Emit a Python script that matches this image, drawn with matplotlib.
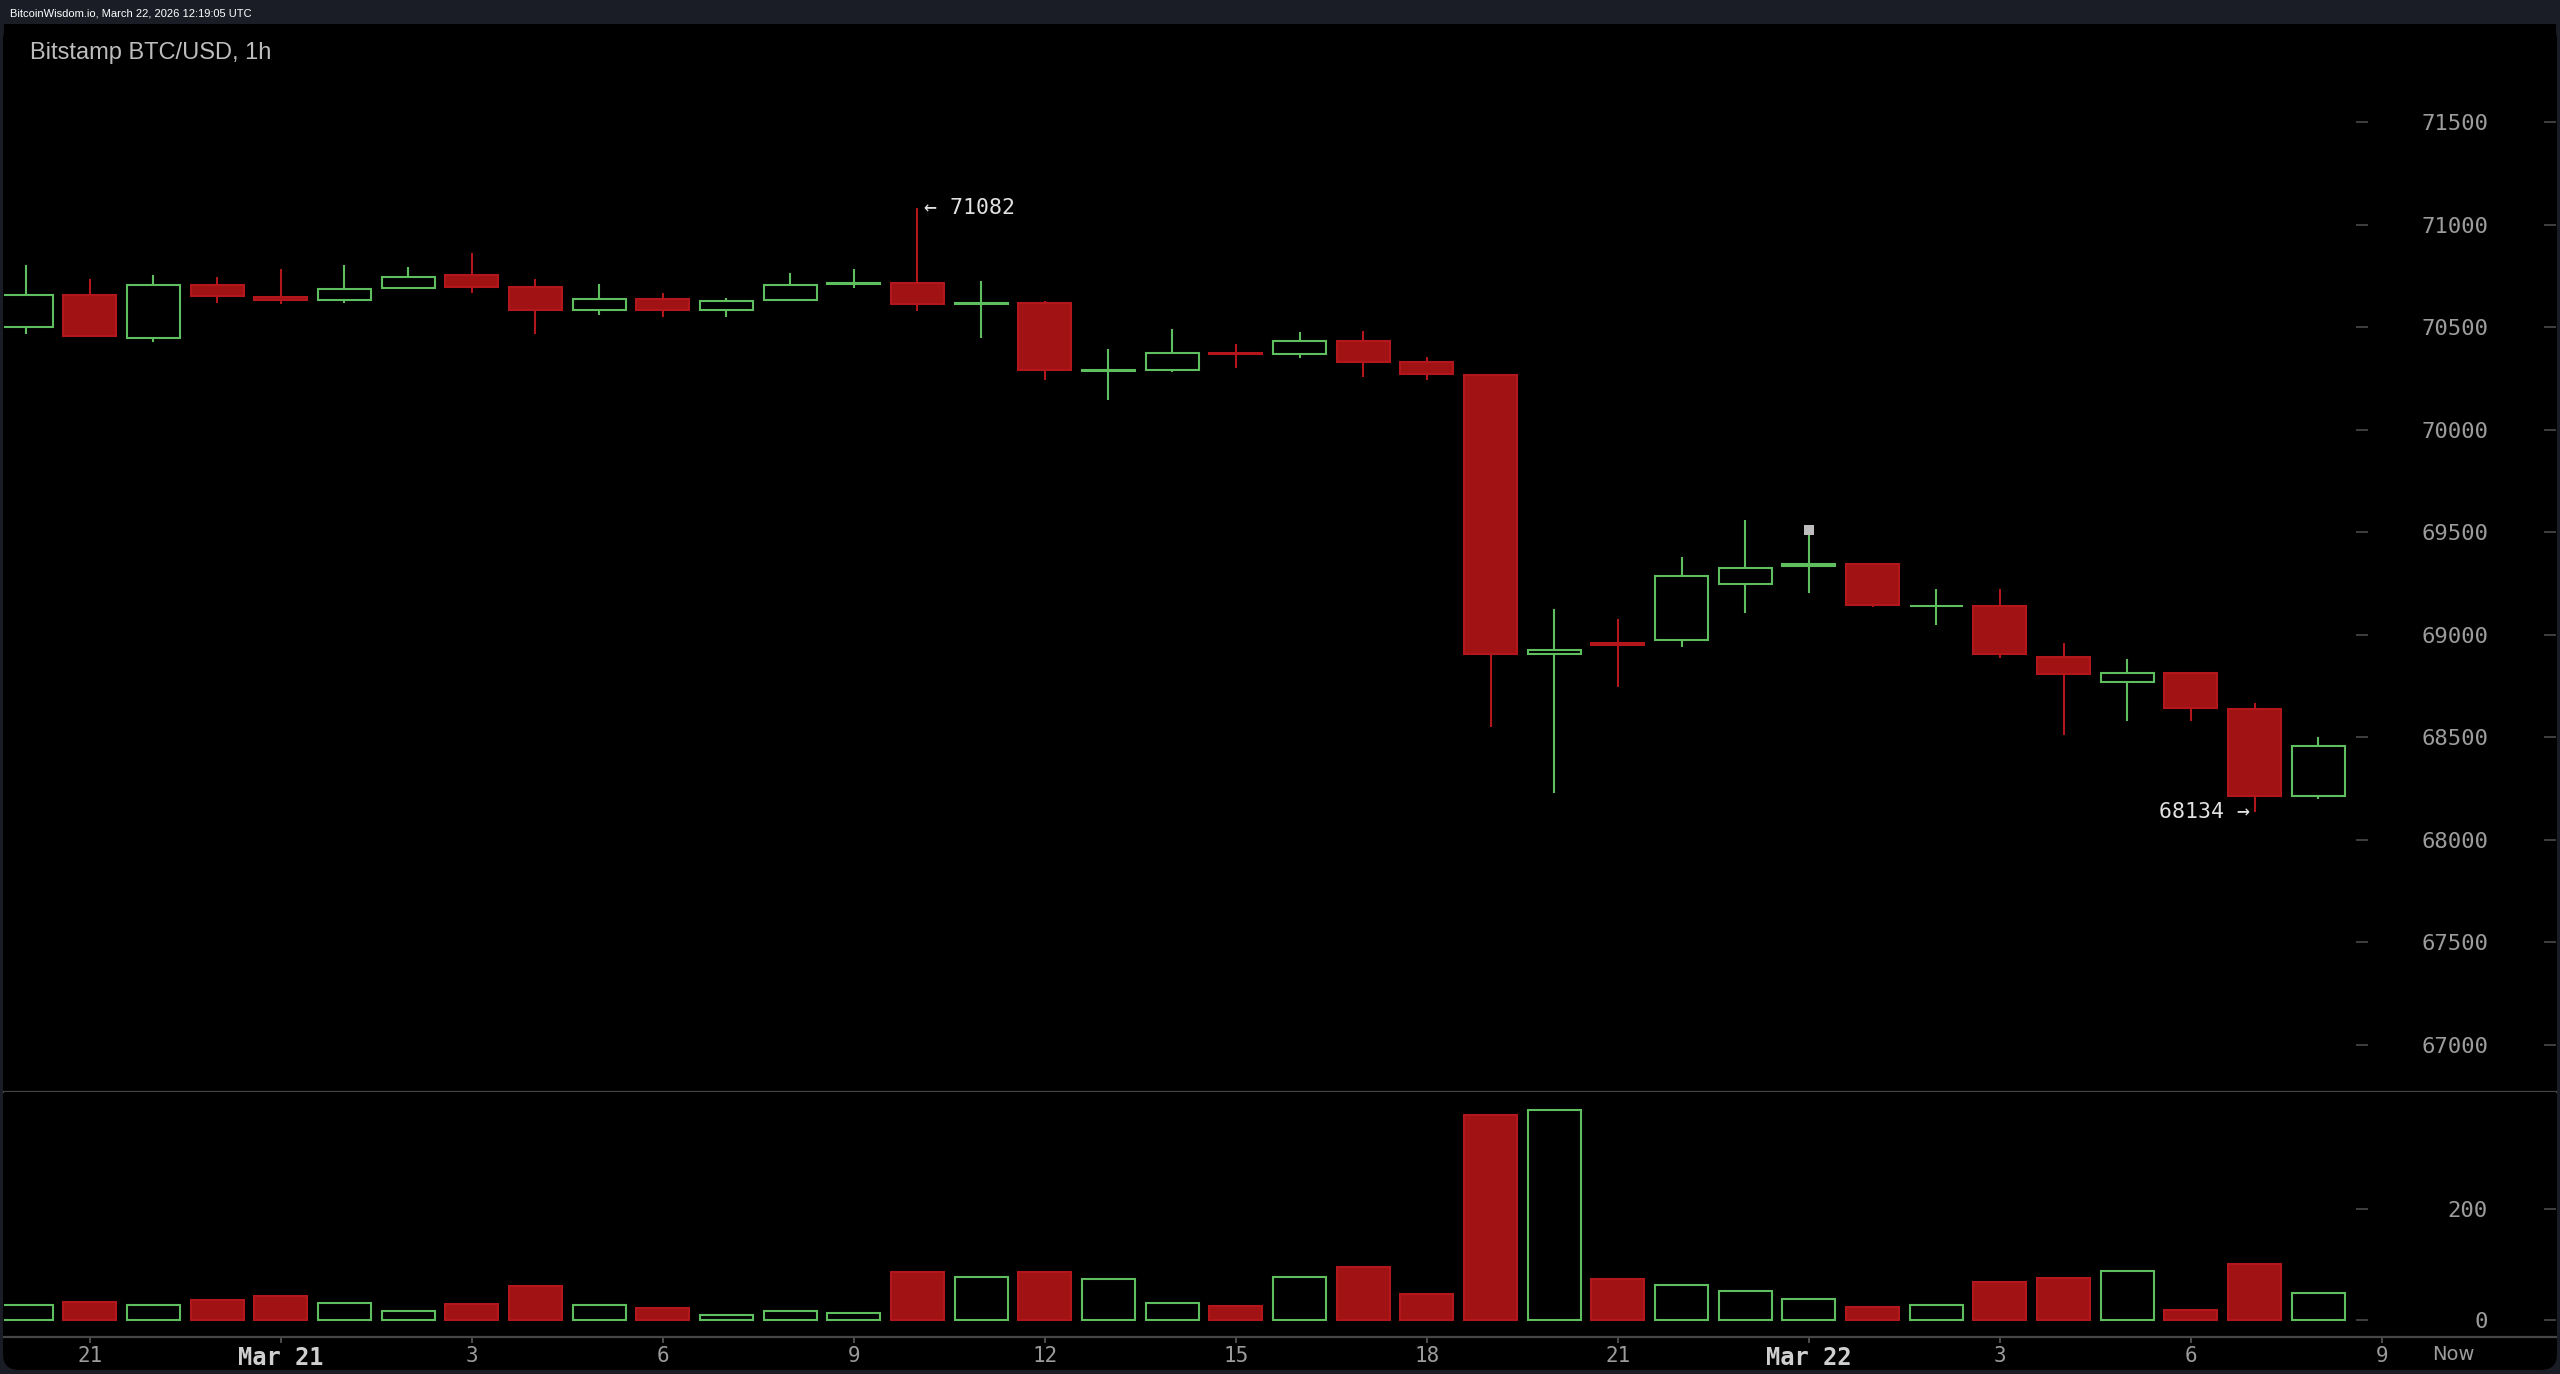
"""Bitstamp BTC/USD 1h candlestick chart with volume, in the BitcoinWisdom dark style."""

import numpy as np
import matplotlib
matplotlib.use("Agg")
import matplotlib.pyplot as plt
import matplotlib.transforms as mtransforms
from matplotlib.patches import FancyBboxPatch

# ---- data (hourly candles, Mar 20 20:00 -> Mar 22 08:00) ----
opens = [70502, 70658, 70450, 70705, 70650, 70632, 70691, 70756, 70699, 70585,
         70639, 70583, 70632, 70712, 70717, 70614, 70619, 70285, 70292, 70375,
         70370, 70435, 70330, 70270, 68905, 68958, 68975, 69247, 69334, 69347,
         69139, 69143, 68891, 68771, 68813, 68637, 68216]
highs = [70804, 70736, 70756, 70747, 70785, 70804, 70795, 70865, 70736, 70710,
         70669, 70642, 70765, 70785, 71082, 70726, 70630, 70395, 70494, 70417,
         70476, 70484, 70357, 70275, 69125, 69077, 69378, 69560, 69512, 69350,
         69222, 69222, 68959, 68881, 68821, 68667, 68501]
lows = [70466, 70455, 70427, 70621, 70612, 70621, 70688, 70666, 70466, 70562,
        70552, 70552, 70630, 70691, 70582, 70447, 70243, 70146, 70281, 70304,
        70349, 70260, 70243, 68552, 68230, 68747, 68943, 69105, 69203, 69134,
        69048, 68886, 68512, 68582, 68582, 68134, 68198]
closes = [70658, 70458, 70705, 70652, 70632, 70687, 70744, 70699, 70583, 70639,
          70583, 70630, 70705, 70714, 70613, 70618, 70292, 70290, 70375, 70371,
          70434, 70331, 70273, 68905, 68928, 68953, 69287, 69325, 69344, 69146,
          69143, 68905, 68808, 68813, 68642, 68216, 68460]
volumes = [26, 31, 26, 34.5, 41.7, 30.3, 15.9, 27.3, 59.8, 26.1,
           20.1, 8.1, 15.9, 12.3, 85, 76.6, 85, 73, 30.3, 23.7,
           76.6, 95.2, 45.4, 368, 378, 73.5, 62.8, 51.4, 37.5, 23.1,
           26.7, 67, 74.2, 87.4, 17.1, 99.5, 48.3]

price_ticks = [67000, 67500, 68000, 68500, 69000, 69500, 70000, 70500, 71000, 71500]
volume_ticks = [0, 200]
hour_tick_pos = [1, 4, 7, 10, 13, 16, 19, 22, 25, 28, 31, 34, 37]
hour_tick_labels = ["21", "Mar 21", "3", "6", "9", "12", "15", "18", "21",
                    "Mar 22", "3", "6", "9"]

# ---- style ----
OUTER = "#1a1d26"
PANEL = "#000000"
RED_FILL = "#a01214"
RED_EDGE = "#b3171b"
GREEN = "#5fbf5f"
AXIS_LINE = "#464646"
TICK_TEXT = "#9c9c9c"
BRIGHT_TEXT = "#cfcfcf"
MONO = "DejaVu Sans Mono"

W, H = 2560, 1374
DPI = 100


def px_box(x0, y0, x1, y1):
    """Figure-fraction rect from pixel coordinates (y measured from the top)."""
    return [x0 / W, 1 - y1 / H, (x1 - x0) / W, (y1 - y0) / H]


def run() -> None:
    o = np.array(opens, dtype=float)
    h = np.array(highs, dtype=float)
    l = np.array(lows, dtype=float)
    c = np.array(closes, dtype=float)
    v = np.array(volumes, dtype=float)
    x = np.arange(len(o))
    up = c >= o

    fig = plt.figure(figsize=(W / DPI, H / DPI), dpi=DPI)
    fig.patch.set_facecolor(OUTER)

    # black rounded panel
    panel = FancyBboxPatch((3 / DPI, 4 / DPI), 2554 / DPI, 1346 / DPI,
                           boxstyle="round,pad=0,rounding_size=0.16",
                           transform=fig.dpi_scale_trans, facecolor=PANEL,
                           edgecolor="none", zorder=0)
    fig.add_artist(panel)

    fig.text(10 / W, 1 - 13 / H, "BitcoinWisdom.io, March 22, 2026 12:19:05 UTC",
             family="Liberation Sans", fontsize=8, color="white",
             ha="left", va="center")

    ax = fig.add_axes(px_box(4, 24, 2556, 1092))
    axv = fig.add_axes(px_box(4, 1092, 2556, 1337), sharex=ax)
    for a in (ax, axv):
        a.set_facecolor(PANEL)
        for s in ("top", "left", "right"):
            a.spines[s].set_visible(False)
        a.spines["bottom"].set_color(AXIS_LINE)
        a.spines["bottom"].set_linewidth(1.6)

    xlim = ((4 - 26.1) / 63.67, (2556 - 26.1) / 63.67)
    ax.set_xlim(*xlim)
    ax.set_ylim(66770, 71980)
    axv.set_ylim(-31.5, 410)

    width = 0.83
    lw = 1.5
    edge = [GREEN if u else RED_EDGE for u in up]
    face = [PANEL if u else RED_FILL for u in up]

    # wicks (kept outside the body so hollow candles stay hollow)
    top = np.maximum(o, c)
    bot = np.minimum(o, c)
    ax.vlines(x, top, h, colors=edge, linewidth=lw, zorder=2)
    ax.vlines(x, l, bot, colors=edge, linewidth=lw, zorder=2)
    body = np.maximum(top - bot, 3)
    ax.bar(x, body, bottom=bot, width=width, color=face, edgecolor=edge,
           linewidth=lw, zorder=3)

    # last-trade marker
    ax.plot(x[28], h[28], marker="s", markersize=6.5, color="#bdbdbd",
            markeredgewidth=0, zorder=4)

    # high / low annotations
    i_hi = int(np.argmax(h))
    i_lo = int(np.argmin(l))
    ax.annotate(f"\u2190 {h[i_hi]:.0f}", (x[i_hi], h[i_hi]), xytext=(4.5, 0),
                textcoords="offset points", ha="left", va="center",
                family=MONO, fontsize=15.5, color="#e2e2e2")
    ax.annotate(f"{l[i_lo]:.0f} \u2192", (x[i_lo], l[i_lo]), xytext=(-3.5, 0),
                textcoords="offset points", ha="right", va="center",
                family=MONO, fontsize=15.5, color="#e2e2e2")

    # volume
    axv.bar(x, v, width=width, color=face, edgecolor=edge, linewidth=lw, zorder=3)

    # right-hand value axes
    for a, ticks in ((ax, price_ticks), (axv, volume_ticks)):
        a.yaxis.tick_right()
        a.set_yticks(ticks)
        a.set_yticklabels([str(t) for t in ticks])
        a.tick_params(axis="y", direction="in", length=8.6, width=1.2,
                      color="#4a4a4a", pad=-49, labelsize=16, labelcolor=TICK_TEXT)
        for lab in a.get_yticklabels():
            lab.set_horizontalalignment("right")
            lab.set_family(MONO)
        a.hlines(ticks, 0.9218, 0.9265, transform=a.get_yaxis_transform(),
                 colors="#4a4a4a", linewidth=1.2, zorder=1)

    # time axis
    ax.tick_params(axis="x", bottom=False, labelbottom=False)
    axv.set_xticks(hour_tick_pos)
    axv.set_xticklabels(hour_tick_labels)
    axv.tick_params(axis="x", direction="out", length=4.3, width=1.2,
                    color="#5a5a5a", pad=2.5, labelsize=15, labelcolor=TICK_TEXT)
    for lab in axv.get_xticklabels():
        lab.set_family(MONO)
        if lab.get_text().startswith("Mar"):
            lab.set_fontweight("bold")
            lab.set_fontsize(17)
            lab.set_color(BRIGHT_TEXT)
    trans = mtransforms.blended_transform_factory(axv.transData, axv.transAxes)
    axv.text(38.13, -17 / 245, "Now", transform=trans, ha="center", va="center",
             family="DejaVu Sans", fontsize=14, color=TICK_TEXT)

    fig.text(30 / W, 1 - 53 / H, "Bitstamp BTC/USD, 1h", family="Liberation Sans",
             fontsize=17, color="#bdbdbd", ha="left", va="center")

    fig.savefig("out.png", dpi=DPI, facecolor=OUTER)


if __name__ == "__main__":
    run()
